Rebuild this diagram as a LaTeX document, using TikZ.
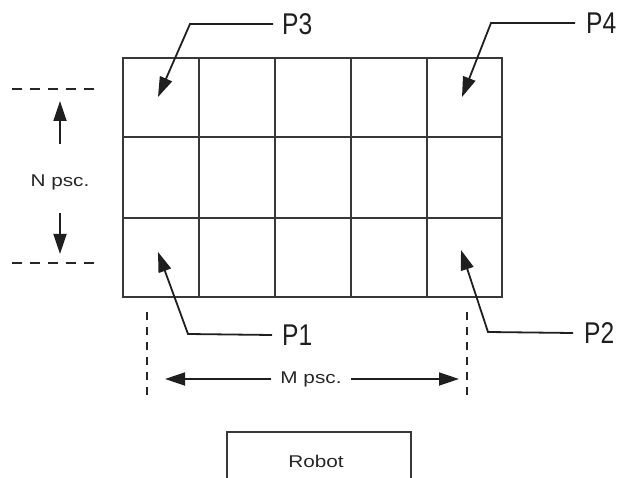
\documentclass[tikz,border=0pt]{standalone}
\usepackage{fontspec}
\setmainfont{Liberation Sans}
\newfontfamily\pfont[FakeStretch=0.82]{Liberation Sans}
\newfontfamily\wfont[FakeStretch=1.22]{Liberation Sans}
\usetikzlibrary{arrows.meta}
\begin{document}
\begin{tikzpicture}[x=1pt,y=-1pt,
  gridline/.style={line width=2pt,draw=black!78},
  leader/.style={line width=1.8pt,draw=black!88,-{Triangle[length=20pt,width=13pt]}},
  dimarrow/.style={line width=1.8pt,draw=black!88,-{Triangle[length=20pt,width=13pt]}},
  dashline/.style={line width=1.8pt,draw=black!85,dash pattern=on 10pt off 8pt},
  vdashline/.style={line width=1.8pt,draw=black!85,dash pattern=on 8pt off 7pt},
  plabel/.style={font=\pfont\fontsize{30}{30}\selectfont,inner sep=0pt,anchor=west,text=black!88},
  slabel/.style={font=\wfont\fontsize{17}{17}\selectfont,inner sep=0pt,text=black!85}]
\useasboundingbox (0,0) rectangle (623,478);
% grid
\draw[gridline] (123,58) rectangle (502,297);
\foreach \x in {199,275,351,427} \draw[gridline] (\x,58) -- (\x,297);
\foreach \y in {137,218} \draw[gridline] (123,\y) -- (502,\y);
% tip coordinates
\coordinate (t3) at (158,97);
\coordinate (t4) at (462,97);
\coordinate (t1) at (158,252);
\coordinate (t2) at (461,250);
% labels
\node[plabel] (p3) at (282,24) {P3};
\node[plabel] (p4) at (586,23) {P4};
\node[plabel] (p1) at (282,335) {P1};
\node[plabel] (p2) at (584,333) {P2};
\draw[leader] (p3.west) ++(-9,0) coordinate (p3e) -- (190,24) -- (t3);
\draw[leader] (p4.west) ++(-11,0) coordinate (p4e) -- (491,23) -- (t4);
\draw[leader] (p1.west) ++(-10,0) coordinate (p1e) -- (188,334) -- (t1);
\draw[leader] (p2.west) ++(-11,0) coordinate (p2e) -- (488,332) -- (t2);
% N dimension
\coordinate (nt1) at (12,89); \coordinate (nt2) at (100,89);
\coordinate (nb1) at (12,263); \coordinate (nb2) at (100,263);
\draw[dashline] (nt1) -- (nt2);
\draw[dashline] (nb1) -- (nb2);
\node[slabel] (n) at (60,182) {N psc.};
\coordinate (nup) at (60,101);
\coordinate (ndn) at (60,254);
\draw[dimarrow] (60,144) -- (nup);
\draw[dimarrow] (60,213) -- (ndn);
% M dimension
\coordinate (ml1) at (147,312); \coordinate (ml2) at (147,397);
\coordinate (mr1) at (467,312); \coordinate (mr2) at (467,397);
\draw[vdashline] (ml1) -- (ml2);
\draw[vdashline] (mr1) -- (mr2);
\node[slabel] (m) at (311,379) {M psc.};
\coordinate (mlt) at (165,379);
\coordinate (mrt) at (459,379);
\draw[dimarrow] (m.west) ++(-9,0) -- (mlt);
\draw[dimarrow] (m.east) ++(9,0) -- (mrt);
% Robot
\draw[gridline] (227,480) -- (227,432) -- (411,432) -- (411,480);
\node[slabel] (robot) at (316,461) {Robot};
\end{tikzpicture}
\end{document}
